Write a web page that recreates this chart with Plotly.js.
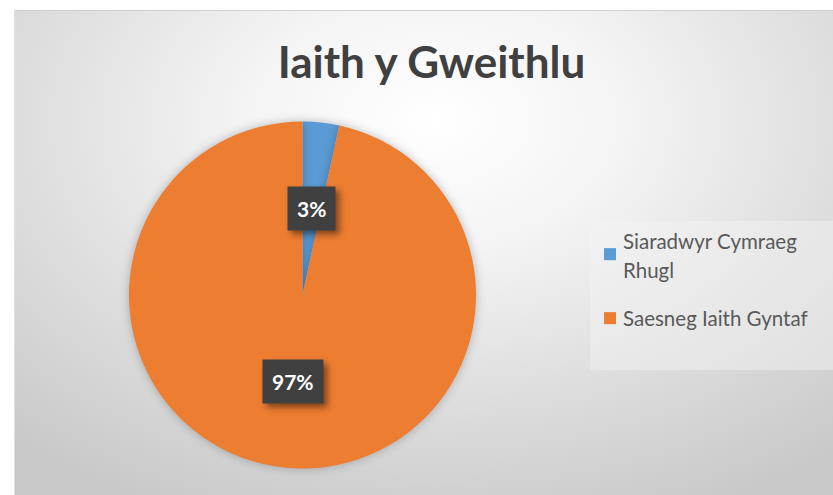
<!DOCTYPE html>
<html>
<head>
<meta charset="utf-8">
<script src="https://cdn.plot.ly/plotly-3.0.1.min.js"></script>
<style>
  html, body { margin:0; padding:0; background:#ffffff; }
  #wrap { position:relative; width:833px; height:495px; overflow:hidden; background:#fff; }
  #bg { position:absolute; left:14px; top:10px; width:840px; height:500px;
        border-top:1px solid #d0d0d0; border-left:1px solid #e0e0e0;
        background: radial-gradient(ellipse 75% 85% at 50% 22%, #ffffff 0%, #f4f4f4 30%, #dedede 65%, #c9c9c9 100%); }
  #chart { position:absolute; left:0; top:0; width:833px; height:495px; }
  .pielayer path.surface { filter: drop-shadow(0px 0px 5px rgba(0,0,0,0.25)); }
  .annotation-text-g rect.bg { filter: drop-shadow(4px 4px 3px rgba(0,0,0,0.45)); }
</style>
</head>
<body>
<div id="wrap">
  <div id="bg"></div>
  <div id="chart"></div>
</div>
<script>
const categories = ['Siaradwyr Cymraeg<br>Rhugl', 'Saesneg Iaith Gyntaf'];
const values = [3.4, 96.6];
const colors = ['#5B9BD5', '#ED7D31'];
const titleText = 'Iaith y Gweithlu';

const W = 833, H = 495;
const cxPx = 302.5, cyPx = 295, R = 173.5;
const domX = [(cxPx - R) / W, (cxPx + R) / W];
const domY = [1 - (cyPx + R) / H, 1 - (cyPx - R) / H];

// label positions derived from the slice angles
const total = values.reduce((a, b) => a + b, 0);
const annotations = [];
let cum = 0;
values.forEach((v, i) => {
  const mid = (cum + v / 2) / total * 2 * Math.PI;
  cum += v;
  const rf = 0.5;
  const px = cxPx + rf * R * Math.sin(mid);
  const py = cyPx - rf * R * Math.cos(mid);
  const txt = Math.round(v / total * 100) + '%';
  annotations.push({
    x: px / W, y: 1 - py / H, xref: 'paper', yref: 'paper',
    text: '<b>' + txt + '</b>', showarrow: false,
    font: {family: 'Lato, "Open Sans", sans-serif', size: 21, color: '#ffffff'},
    bgcolor: '#404040', borderpad: 9, xanchor: 'center', yanchor: 'middle'
  });
});

const data = [{
  type: 'pie',
  labels: categories,
  values: values,
  marker: {colors: colors, line: {width: 0}},
  sort: false,
  direction: 'clockwise',
  rotation: 0,
  textinfo: 'none',
  hoverinfo: 'none',
  domain: {x: domX, y: domY}
}];

const layout = {
  width: W, height: H,
  margin: {l: 0, r: 0, t: 0, b: 0},
  paper_bgcolor: 'rgba(0,0,0,0)',
  plot_bgcolor: 'rgba(0,0,0,0)',
  title: {text: '<b>' + titleText + '</b>', x: 0.518, xanchor: 'center', y: 0.873, yanchor: 'middle',
          font: {family: 'Lato, "Open Sans", sans-serif', size: 44, color: '#404040'}},
  showlegend: true,
  legend: {
    x: 590 / W, xanchor: 'left', y: 1 - 221 / H, yanchor: 'top',
    bgcolor: 'rgba(245,245,245,0.45)', borderwidth: 0,
    font: {family: 'Lato, "Open Sans", sans-serif', size: 20.5, color: '#595959'},
    itemclick: false, itemdoubleclick: false
  },
  annotations: annotations
};

function parseT(tr) {
  const m = /translate\(\s*([-\d.e]+)[ ,]+([-\d.e]+)\s*\)/.exec(tr || '');
  return m ? [parseFloat(m[1]), parseFloat(m[2])] : [0, 0];
}

Plotly.newPlot('chart', data, layout, {displayModeBar: false, staticPlot: true}).then(function (gd) {
  try {
    const leg = gd.querySelector('.legend');
    const sb = leg.querySelector('.scrollbox');
    if (sb) sb.removeAttribute('clip-path');
    const traces = leg.querySelectorAll('.traces');
    traces.forEach(function (tr) {
      const txt = tr.querySelector('text.legendtext');
      if (!txt) return;
      const lines = txt.querySelectorAll('tspan.line');
      lines.forEach(function (ln, k) { if (k > 0) ln.setAttribute('dy', (k * 1.4) + 'em'); });
      const x0 = parseFloat(txt.getAttribute('x') || '40');
      const nx = x0 - 7;
      txt.setAttribute('x', nx);
      lines.forEach(function (ln) { ln.setAttribute('x', nx); });
    });
    if (traces.length > 1) {
      const t0 = parseT(traces[0].getAttribute('transform'));
      const t1 = parseT(traces[1].getAttribute('transform'));
      traces[1].setAttribute('transform', 'translate(' + t1[0] + ',' + (t0[1] + 64) + ')');
    }
    const bg = leg.querySelector('rect.bg');
    if (bg) { bg.setAttribute('height', 149); bg.setAttribute('width', 250); }
  } catch (e) {}
});
</script>
</body>
</html>
